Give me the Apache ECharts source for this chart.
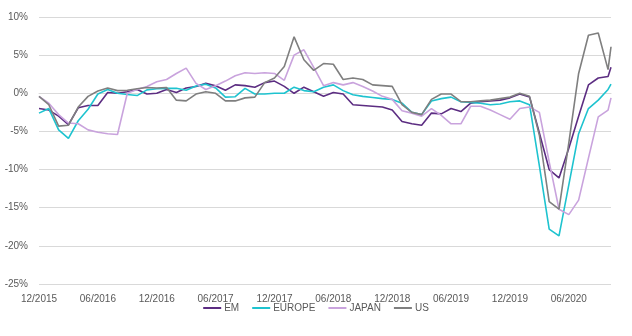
<!DOCTYPE html>
<html>
<head>
<meta charset="utf-8">
<script src="https://cdn.jsdelivr.net/npm/echarts@6/dist/echarts.min.js"></script>
<style>html,body{margin:0;padding:0;background:#fff}#c{width:632px;height:336px}</style>
</head>
<body>
<div id="c"></div>
<script>
const dates = [
'2015-12-31','2016-01-31','2016-02-29','2016-03-31','2016-04-30','2016-05-31','2016-06-30','2016-07-31','2016-08-31','2016-09-30','2016-10-31','2016-11-30',
'2016-12-31','2017-01-31','2017-02-28','2017-03-31','2017-04-30','2017-05-31','2017-06-30','2017-07-31','2017-08-31','2017-09-30','2017-10-31','2017-11-30',
'2017-12-31','2018-01-31','2018-02-28','2018-03-31','2018-04-30','2018-05-31','2018-06-30','2018-07-31','2018-08-31','2018-09-30','2018-10-31','2018-11-30',
'2018-12-31','2019-01-31','2019-02-28','2019-03-31','2019-04-30','2019-05-31','2019-06-30','2019-07-31','2019-08-31','2019-09-30','2019-10-31','2019-11-30',
'2019-12-31','2020-01-31','2020-02-29','2020-03-31','2020-04-30','2020-05-31','2020-06-30','2020-07-31','2020-08-31','2020-09-30','2020-10-31','2020-11-09'
];
const seriesNames = ['EM','EUROPE','JAPAN','US'];
const em = [-2.0,-2.2,-3.0,-4.1,-1.9,-1.6,-1.6,0.1,0.0,0.2,
0.5,-0.1,0.0,0.5,0.1,0.7,0.9,1.3,1.0,0.4,
1.1,1.0,0.8,1.4,1.6,0.9,0.0,0.8,0.2,-0.4,
0.1,-0.1,-1.5,-1.6,-1.7,-1.8,-2.2,-3.7,-4.0,-4.2,
-2.6,-2.7,-2.0,-2.4,-1.3,-1.1,-1.0,-0.9,-0.6,-0.1,
-0.5,-5.2,-10.0,-11.1,-7.2,-3.0,1.1,2.0,2.2,3.4];
const europe = [-2.6,-2.0,-4.8,-5.9,-3.6,-2.1,-0.1,0.5,0.0,-0.15,
-0.3,0.45,0.6,0.65,0.65,0.4,0.95,1.2,0.7,-0.5,
-0.45,0.65,-0.1,-0.1,0.0,0.0,0.8,0.35,0.2,0.8,
1.1,0.35,-0.2,-0.4,-0.55,-0.7,-0.8,-1.3,-2.5,-2.8,
-1.0,-0.7,-0.5,-1.1,-1.2,-1.3,-1.5,-1.4,-1.1,-1.0,
-1.5,-9.5,-17.8,-18.7,-12.0,-5.3,-2.0,-0.9,0.5,1.2];
const japan = [-0.4,-1.3,-2.8,-3.9,-4.0,-4.8,-5.1,-5.3,-5.4,0.0,
0.5,0.9,1.5,1.8,2.6,3.3,1.3,0.5,1.0,1.6,
2.3,2.7,2.6,2.7,2.6,1.7,5.0,5.7,3.4,1.0,
1.4,1.1,1.4,0.9,0.3,-0.4,-0.8,-2.3,-2.6,-3.0,
-2.0,-2.9,-4.0,-4.0,-1.7,-1.7,-2.2,-2.8,-3.4,-2.0,
-1.8,-2.5,-9.0,-15.2,-15.9,-14.0,-8.5,-3.1,-2.2,-0.6];
const us = [-0.4,-1.5,-4.3,-4.2,-1.8,-0.4,0.3,0.7,0.35,0.4,
0.6,0.75,0.7,0.75,-0.9,-1.0,-0.1,0.2,0.0,-1.0,
-1.0,-0.6,-0.5,1.4,2.0,3.5,7.4,4.4,3.0,3.9,
3.8,1.8,2.0,1.8,1.1,1.0,0.9,-1.5,-2.5,-2.8,
-0.8,-0.1,-0.1,-1.1,-1.1,-1.0,-0.9,-0.7,-0.5,0.0,
-0.4,-5.5,-14.2,-15.2,-6.5,2.6,7.6,7.9,3.1,6.1];
const xTickLabels = ['12/2015','06/2016','12/2016','06/2017','12/2017','06/2018','12/2018','06/2019','12/2019','06/2020'];
const yTicks = {min:-25, max:10, step:5};

function monthPos(s){
  const p = s.split('-').map(Number);
  const dim = new Date(Date.UTC(p[0], p[1], 0)).getUTCDate();
  return (p[0]-2015)*12 + (p[1]-12) + p[2]/dim - 1;
}
const xs = dates.map(monthPos);
const pair = arr => arr.map((v,i)=>[xs[i], v]);
const colors = ['#5c2d82','#1ec3cf','#c9a3dd','#7f7f7f'];
const font = 'Liberation Sans';

const chart = echarts.init(document.getElementById('c'), null, {renderer:'canvas'});
chart.setOption({
  animation:false,
  backgroundColor:'#fff',
  color: colors,
  grid:{left:39, right:21, top:17, bottom:52, containLabel:false},
  xAxis:{
    type:'value', min:0, max:xs[xs.length-1], interval:6,
    axisLine:{show:true, lineStyle:{color:'#d9d9d9'}},
    axisTick:{show:false},
    splitLine:{show:false},
    axisLabel:{
      showMaxLabel:false, margin:10,
      color:'#595959', fontSize:10, fontFamily:font,
      formatter: v => xTickLabels[Math.round(v/6)] || ''
    }
  },
  yAxis:{
    type:'value', min:yTicks.min, max:yTicks.max, interval:yTicks.step,
    axisLine:{show:false}, axisTick:{show:false},
    splitLine:{lineStyle:{color:'#d9d9d9', width:1}},
    axisLabel:{color:'#595959', fontSize:10, fontFamily:font, margin:11, formatter:'{value}%'}
  },
  legend:{
    top:298, left:'center', icon:'rect', itemWidth:18, itemHeight:2, itemGap:13,
    textStyle:{color:'#595959', fontSize:10, fontFamily:font, padding:[0,0,0,-2]},
    data: seriesNames
  },
  series:[em, europe, japan, us].map((arr,i)=>({
    name: seriesNames[i], type:'line', data: pair(arr),
    symbol:'none', lineStyle:{width:1.6, color:colors[i]}
  }))
});
</script>
</body>
</html>
